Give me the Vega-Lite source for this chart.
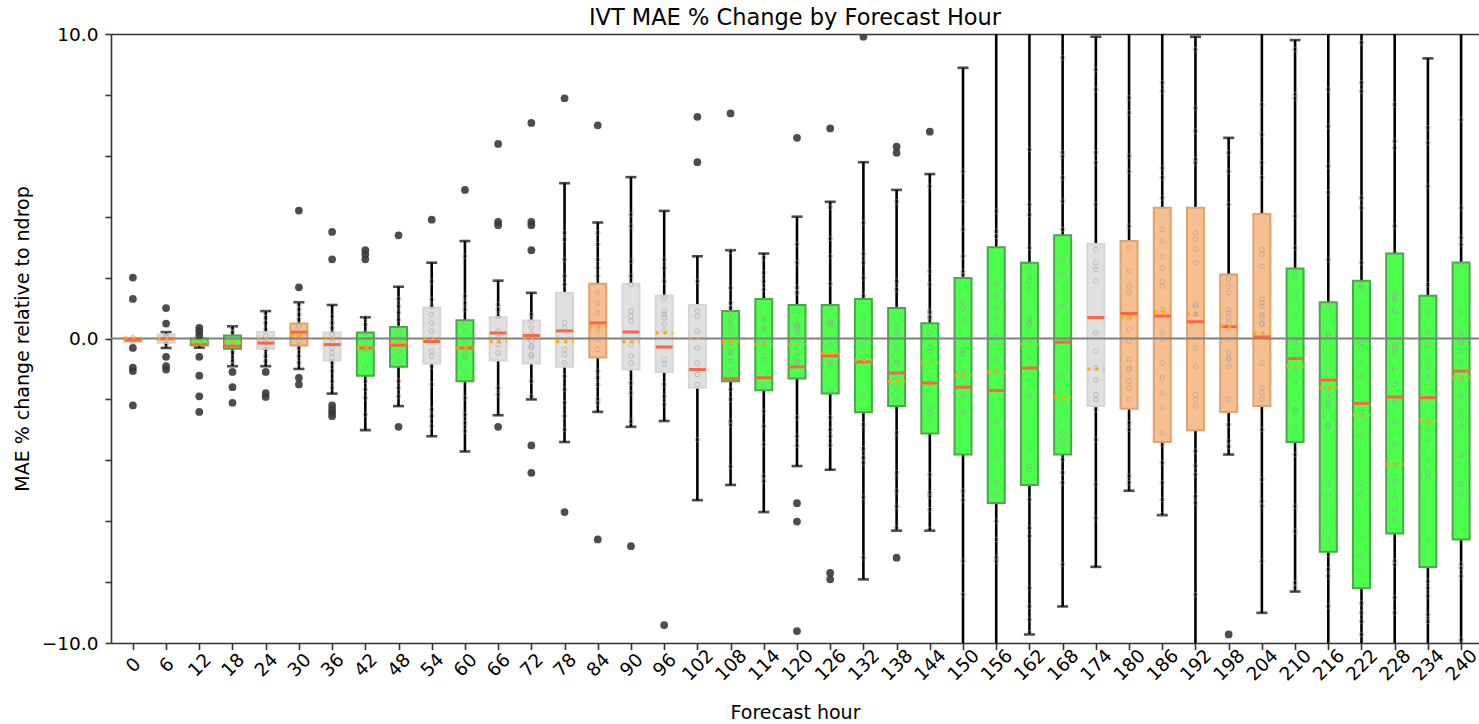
{
  "$schema": "https://vega.github.io/schema/vega-lite/v6.json",
  "width": 1368,
  "height": 609,
  "autosize": {"type": "none"},
  "padding": {"left": 111, "top": 34, "right": 0, "bottom": 81},
  "title": {"text": "IVT MAE % Change by Forecast Hour", "fontSize": 22.5, "font": "DejaVu Sans", "fontWeight": "normal", "color": "black", "offset": -4, "anchor": "middle"},
  "config": {
    "view": {"stroke": null},
    "font": "DejaVu Sans",
    "axis": {"labelFont": "DejaVu Sans", "titleFont": "DejaVu Sans", "labelColor": "black", "titleColor": "black", "titleFontWeight": "normal", "grid": false, "domainColor": "#333333", "tickColor": "#333333", "domainWidth": 1.6, "tickWidth": 1.6}
  },
  "datasets": {
    "boxes": [
      {"hour": 0, "g": "gray", "lo": null, "q1": -0.12, "med": -0.05, "q3": 0.02, "hi": null, "mean": 0.02},
      {"hour": 6, "g": "gray", "lo": -0.31, "q1": -0.14, "med": -0.01, "q3": 0.13, "hi": 0.21, "mean": 0.0},
      {"hour": 12, "g": "green", "lo": -0.3, "q1": -0.22, "med": -0.2, "q3": 0.0, "hi": 0.0, "mean": -0.12},
      {"hour": 18, "g": "green", "lo": -0.91, "q1": -0.34, "med": -0.25, "q3": 0.1, "hi": 0.4, "mean": -0.12},
      {"hour": 24, "g": "gray", "lo": -0.91, "q1": -0.34, "med": -0.15, "q3": 0.21, "hi": 0.9, "mean": 0.0},
      {"hour": 30, "g": "orange", "lo": -1.0, "q1": -0.23, "med": 0.21, "q3": 0.49, "hi": 1.19, "mean": 0.1},
      {"hour": 36, "g": "gray", "lo": -1.81, "q1": -0.72, "med": -0.2, "q3": 0.2, "hi": 1.1, "mean": 0.0},
      {"hour": 42, "g": "green", "lo": -3.01, "q1": -1.22, "med": -0.31, "q3": 0.2, "hi": 0.7, "mean": -0.3},
      {"hour": 48, "g": "green", "lo": -2.22, "q1": -0.93, "med": -0.22, "q3": 0.38, "hi": 1.7, "mean": -0.12},
      {"hour": 54, "g": "gray", "lo": -3.21, "q1": -0.82, "med": -0.1, "q3": 1.01, "hi": 2.49, "mean": 0.0},
      {"hour": 60, "g": "green", "lo": -3.71, "q1": -1.4, "med": -0.31, "q3": 0.6, "hi": 3.2, "mean": -0.3},
      {"hour": 66, "g": "gray", "lo": -2.52, "q1": -0.72, "med": 0.18, "q3": 0.7, "hi": 1.9, "mean": -0.11},
      {"hour": 72, "g": "gray", "lo": -2.0, "q1": -0.82, "med": 0.1, "q3": 0.59, "hi": 1.5, "mean": 0.0},
      {"hour": 78, "g": "gray", "lo": -3.4, "q1": -0.93, "med": 0.25, "q3": 1.5, "hi": 5.1, "mean": -0.11},
      {"hour": 84, "g": "orange", "lo": -2.41, "q1": -0.62, "med": 0.51, "q3": 1.8, "hi": 3.81, "mean": 0.38},
      {"hour": 90, "g": "gray", "lo": -2.9, "q1": -1.02, "med": 0.21, "q3": 1.8, "hi": 5.3, "mean": -0.11},
      {"hour": 96, "g": "gray", "lo": -2.71, "q1": -1.1, "med": -0.28, "q3": 1.41, "hi": 4.19, "mean": 0.18},
      {"hour": 102, "g": "gray", "lo": -5.31, "q1": -1.62, "med": -1.02, "q3": 1.1, "hi": 2.7, "mean": 0.0},
      {"hour": 108, "g": "green", "lo": -4.81, "q1": -1.4, "med": -1.32, "q3": 0.9, "hi": 2.9, "mean": -0.11},
      {"hour": 114, "g": "green", "lo": -5.7, "q1": -1.7, "med": -1.29, "q3": 1.3, "hi": 2.79, "mean": -0.2},
      {"hour": 120, "g": "green", "lo": -4.19, "q1": -1.31, "med": -0.93, "q3": 1.1, "hi": 4.0, "mean": -0.2},
      {"hour": 126, "g": "green", "lo": -4.31, "q1": -1.81, "med": -0.57, "q3": 1.1, "hi": 4.49, "mean": -0.49},
      {"hour": 132, "g": "green", "lo": -7.91, "q1": -2.42, "med": -0.77, "q3": 1.3, "hi": 5.79, "mean": -0.71},
      {"hour": 138, "g": "green", "lo": -6.31, "q1": -2.22, "med": -1.13, "q3": 1.0, "hi": 4.88, "mean": -1.4},
      {"hour": 144, "g": "green", "lo": -6.31, "q1": -3.12, "med": -1.46, "q3": 0.5, "hi": 5.4, "mean": -0.8},
      {"hour": 150, "g": "green", "lo": -11, "q1": -3.81, "med": -1.6, "q3": 1.99, "hi": 8.89, "mean": -1.22},
      {"hour": 156, "g": "green", "lo": -11, "q1": -5.4, "med": -1.71, "q3": 3.0, "hi": 11, "mean": -1.1},
      {"hour": 162, "g": "green", "lo": -9.72, "q1": -4.81, "med": -0.97, "q3": 2.49, "hi": 11, "mean": -0.2},
      {"hour": 168, "g": "green", "lo": -8.8, "q1": -3.81, "med": -0.12, "q3": 3.39, "hi": 11, "mean": -1.92},
      {"hour": 174, "g": "gray", "lo": -7.5, "q1": -2.22, "med": 0.69, "q3": 3.1, "hi": 9.91, "mean": -1.0},
      {"hour": 180, "g": "orange", "lo": -5.0, "q1": -2.31, "med": 0.82, "q3": 3.2, "hi": 11, "mean": 0.7},
      {"hour": 186, "g": "orange", "lo": -5.8, "q1": -3.4, "med": 0.74, "q3": 4.29, "hi": 11, "mean": 0.89},
      {"hour": 192, "g": "orange", "lo": -11, "q1": -3.01, "med": 0.55, "q3": 4.29, "hi": 9.91, "mean": 0.8},
      {"hour": 198, "g": "orange", "lo": -3.81, "q1": -2.41, "med": 0.39, "q3": 2.1, "hi": 6.59, "mean": 0.4},
      {"hour": 204, "g": "orange", "lo": -9.01, "q1": -2.22, "med": 0.05, "q3": 4.09, "hi": 11, "mean": 0.18},
      {"hour": 210, "g": "green", "lo": -8.31, "q1": -3.4, "med": -0.66, "q3": 2.3, "hi": 9.8, "mean": -0.91},
      {"hour": 216, "g": "green", "lo": -11, "q1": -7.0, "med": -1.36, "q3": 1.19, "hi": 11, "mean": -1.61},
      {"hour": 222, "g": "green", "lo": -11, "q1": -8.2, "med": -2.13, "q3": 1.9, "hi": 11, "mean": -2.51},
      {"hour": 228, "g": "green", "lo": -11, "q1": -6.4, "med": -1.92, "q3": 2.79, "hi": 11, "mean": -4.12},
      {"hour": 234, "g": "green", "lo": -11, "q1": -7.5, "med": -1.94, "q3": 1.4, "hi": 9.2, "mean": -2.71},
      {"hour": 240, "g": "green", "lo": -11, "q1": -6.6, "med": -1.07, "q3": 2.5, "hi": 11, "mean": -1.3}
    ],
    "outliers": [
      {"hour": 0, "v": 2.0}, {"hour": 0, "v": 1.3}, {"hour": 0, "v": -0.31}, {"hour": 0, "v": -0.96}, {"hour": 0, "v": -1.07}, {"hour": 0, "v": -2.2},
      {"hour": 6, "v": 1.0}, {"hour": 6, "v": 0.49}, {"hour": 6, "v": -0.6}, {"hour": 6, "v": -0.91}, {"hour": 6, "v": -1.02},
      {"hour": 12, "v": 0.35}, {"hour": 12, "v": 0.24}, {"hour": 12, "v": 0.1}, {"hour": 12, "v": -0.6}, {"hour": 12, "v": -1.22}, {"hour": 12, "v": -1.9}, {"hour": 12, "v": -2.41},
      {"hour": 18, "v": -1.1}, {"hour": 18, "v": -1.6}, {"hour": 18, "v": -2.11},
      {"hour": 24, "v": -1.1}, {"hour": 24, "v": -1.79}, {"hour": 24, "v": -1.92},
      {"hour": 30, "v": 4.2}, {"hour": 30, "v": 1.68}, {"hour": 30, "v": -1.29}, {"hour": 30, "v": -1.51},
      {"hour": 36, "v": 3.5}, {"hour": 36, "v": 2.6}, {"hour": 36, "v": -2.2}, {"hour": 36, "v": -2.33}, {"hour": 36, "v": -2.44}, {"hour": 36, "v": -2.55},
      {"hour": 42, "v": 2.9}, {"hour": 42, "v": 2.76}, {"hour": 42, "v": 2.6},
      {"hour": 48, "v": 3.39}, {"hour": 48, "v": -2.9},
      {"hour": 54, "v": 3.9},
      {"hour": 60, "v": 4.88},
      {"hour": 66, "v": 6.39}, {"hour": 66, "v": 3.83}, {"hour": 66, "v": 3.72}, {"hour": 66, "v": -2.9},
      {"hour": 72, "v": 7.08}, {"hour": 72, "v": 3.83}, {"hour": 72, "v": 3.72}, {"hour": 72, "v": 2.9}, {"hour": 72, "v": -3.51}, {"hour": 72, "v": -4.41},
      {"hour": 78, "v": 7.89}, {"hour": 78, "v": -5.7},
      {"hour": 84, "v": 7.0}, {"hour": 84, "v": -6.6},
      {"hour": 90, "v": -6.82},
      {"hour": 96, "v": -9.41},
      {"hour": 102, "v": 7.28}, {"hour": 102, "v": 5.79},
      {"hour": 108, "v": 7.39},
      {"hour": 120, "v": 6.59}, {"hour": 120, "v": -5.41}, {"hour": 120, "v": -6.01}, {"hour": 120, "v": -9.61},
      {"hour": 126, "v": 6.9}, {"hour": 126, "v": -7.7}, {"hour": 126, "v": -7.91},
      {"hour": 132, "v": 9.91},
      {"hour": 138, "v": 6.3}, {"hour": 138, "v": 6.1}, {"hour": 138, "v": -7.2},
      {"hour": 144, "v": 6.79},
      {"hour": 198, "v": -9.72}
    ],
    "pts": [
      {"hour": 0, "v": 0.03}, {"hour": 0, "v": -0.04}, {"hour": 0, "v": -0.1},
      {"hour": 6, "v": 0.15}, {"hour": 6, "v": 0.05}, {"hour": 6, "v": -0.05}, {"hour": 6, "v": -0.2},
      {"hour": 12, "v": 0.1}, {"hour": 12, "v": 0.02}, {"hour": 12, "v": -0.1},
      {"hour": 18, "v": 0.35}, {"hour": 18, "v": 0.19}, {"hour": 18, "v": -0.14}, {"hour": 18, "v": -0.47}, {"hour": 18, "v": -0.74}, {"hour": 18, "v": -0.85},
      {"hour": 24, "v": 0.84}, {"hour": 24, "v": 0.68}, {"hour": 24, "v": 0.51}, {"hour": 24, "v": 0.3}, {"hour": 24, "v": 0.08}, {"hour": 24, "v": -0.14}, {"hour": 24, "v": -0.36}, {"hour": 24, "v": -0.58}, {"hour": 24, "v": -0.74},
      {"hour": 30, "v": 1.12}, {"hour": 30, "v": 0.95}, {"hour": 30, "v": 0.79}, {"hour": 30, "v": 0.62}, {"hour": 30, "v": 0.4}, {"hour": 30, "v": 0.13}, {"hour": 30, "v": -0.09}, {"hour": 30, "v": -0.31}, {"hour": 30, "v": -0.58}, {"hour": 30, "v": -0.8},
      {"hour": 36, "v": 0.73}, {"hour": 36, "v": 0.51}, {"hour": 36, "v": 0.35}, {"hour": 36, "v": 0.13}, {"hour": 36, "v": -0.14}, {"hour": 36, "v": -0.31}, {"hour": 36, "v": -0.47}, {"hour": 36, "v": -0.63}, {"hour": 36, "v": -0.8}, {"hour": 36, "v": -1.07}, {"hour": 36, "v": -1.4}, {"hour": 36, "v": -1.62},
      {"hour": 42, "v": 0.68}, {"hour": 42, "v": 0.46}, {"hour": 42, "v": 0.19}, {"hour": 42, "v": -0.14}, {"hour": 42, "v": -0.36}, {"hour": 42, "v": -0.91}, {"hour": 42, "v": -1.4}, {"hour": 42, "v": -1.67}, {"hour": 42, "v": -1.95}, {"hour": 42, "v": -2.5},
      {"hour": 48, "v": 1.3}, {"hour": 48, "v": 1.06}, {"hour": 48, "v": 0.84}, {"hour": 48, "v": 0.62}, {"hour": 48, "v": 0.35}, {"hour": 48, "v": 0.13}, {"hour": 48, "v": -0.14}, {"hour": 48, "v": -0.42}, {"hour": 48, "v": -0.74}, {"hour": 48, "v": -1.4}, {"hour": 48, "v": -1.62}, {"hour": 48, "v": -1.9},
      {"hour": 54, "v": 1.88}, {"hour": 54, "v": 1.28}, {"hour": 54, "v": 1.06}, {"hour": 54, "v": 0.79}, {"hour": 54, "v": 0.51}, {"hour": 54, "v": 0.24}, {"hour": 54, "v": -0.03}, {"hour": 54, "v": -0.42}, {"hour": 54, "v": -0.58}, {"hour": 54, "v": -0.91}, {"hour": 54, "v": -1.51}, {"hour": 54, "v": -2.33}, {"hour": 54, "v": -2.55}, {"hour": 54, "v": -2.88},
      {"hour": 60, "v": 2.7}, {"hour": 60, "v": 1.39}, {"hour": 60, "v": 1.17}, {"hour": 60, "v": 0.95}, {"hour": 60, "v": 0.51}, {"hour": 60, "v": 0.24}, {"hour": 60, "v": -0.03}, {"hour": 60, "v": -0.36}, {"hour": 60, "v": -0.58}, {"hour": 60, "v": -0.63}, {"hour": 60, "v": -1.07}, {"hour": 60, "v": -1.95}, {"hour": 60, "v": -2.5}, {"hour": 60, "v": -2.77}, {"hour": 60, "v": -3.04},
      {"hour": 66, "v": 1.12}, {"hour": 66, "v": 0.95}, {"hour": 66, "v": 0.73}, {"hour": 66, "v": 0.24}, {"hour": 66, "v": 0.02}, {"hour": 66, "v": -0.2}, {"hour": 66, "v": -0.47}, {"hour": 66, "v": -1.62}, {"hour": 66, "v": -1.84},
      {"hour": 72, "v": 0.79}, {"hour": 72, "v": 0.57}, {"hour": 72, "v": 0.35}, {"hour": 72, "v": 0.13}, {"hour": 72, "v": -0.09}, {"hour": 72, "v": -0.31}, {"hour": 72, "v": -0.58}, {"hour": 72, "v": -0.25}, {"hour": 72, "v": -0.53}, {"hour": 72, "v": -1.4}, {"hour": 72, "v": -1.9},
      {"hour": 78, "v": 3.47}, {"hour": 78, "v": 3.25}, {"hour": 78, "v": 2.59}, {"hour": 78, "v": 2.05}, {"hour": 78, "v": 1.77}, {"hour": 78, "v": 0.51}, {"hour": 78, "v": 0.35}, {"hour": 78, "v": -0.36}, {"hour": 78, "v": -0.53}, {"hour": 78, "v": -0.8}, {"hour": 78, "v": -1.24}, {"hour": 78, "v": -1.67}, {"hour": 78, "v": -2.11}, {"hour": 78, "v": -2.55}, {"hour": 78, "v": -2.99},
      {"hour": 84, "v": 3.47}, {"hour": 84, "v": 3.09}, {"hour": 84, "v": 2.59}, {"hour": 84, "v": 2.32}, {"hour": 84, "v": 2.05}, {"hour": 84, "v": 1.5}, {"hour": 84, "v": 1.17}, {"hour": 84, "v": 0.84}, {"hour": 84, "v": 0.3}, {"hour": 84, "v": -0.03}, {"hour": 84, "v": -0.36}, {"hour": 84, "v": -1.07}, {"hour": 84, "v": -1.29}, {"hour": 84, "v": -1.51}, {"hour": 84, "v": -2.0}, {"hour": 84, "v": -2.11},
      {"hour": 90, "v": 4.07}, {"hour": 90, "v": 3.69}, {"hour": 90, "v": 2.54}, {"hour": 90, "v": 2.05}, {"hour": 90, "v": 1.77}, {"hour": 90, "v": 0.9}, {"hour": 90, "v": 0.73}, {"hour": 90, "v": 0.57}, {"hour": 90, "v": -0.2}, {"hour": 90, "v": -0.58}, {"hour": 90, "v": -0.8}, {"hour": 90, "v": -1.46}, {"hour": 90, "v": -1.79}, {"hour": 90, "v": -2.72},
      {"hour": 96, "v": 2.59}, {"hour": 96, "v": 2.32}, {"hour": 96, "v": 1.88}, {"hour": 96, "v": 1.34}, {"hour": 96, "v": 0.9}, {"hour": 96, "v": 0.68}, {"hour": 96, "v": 0.46}, {"hour": 96, "v": 0.24}, {"hour": 96, "v": 0.79}, {"hour": 96, "v": -0.69}, {"hour": 96, "v": -0.85}, {"hour": 96, "v": -1.51}, {"hour": 96, "v": -1.9}, {"hour": 96, "v": -2.17},
      {"hour": 102, "v": 1.88}, {"hour": 102, "v": 0.9}, {"hour": 102, "v": 0.73}, {"hour": 102, "v": 0.24}, {"hour": 102, "v": -0.31}, {"hour": 102, "v": -0.8}, {"hour": 102, "v": -1.18}, {"hour": 102, "v": -1.51}, {"hour": 102, "v": -3.32},
      {"hour": 108, "v": 2.87}, {"hour": 108, "v": 1.66}, {"hour": 108, "v": 1.17}, {"hour": 108, "v": 1.0}, {"hour": 108, "v": 0.84}, {"hour": 108, "v": 0.19}, {"hour": 108, "v": -0.14}, {"hour": 108, "v": -0.47}, {"hour": 108, "v": 0.62}, {"hour": 108, "v": 0.46}, {"hour": 108, "v": -0.42}, {"hour": 108, "v": -0.74}, {"hour": 108, "v": -1.07}, {"hour": 108, "v": -1.67}, {"hour": 108, "v": -2.0}, {"hour": 108, "v": -2.72}, {"hour": 108, "v": -2.83}, {"hour": 108, "v": -4.2},
      {"hour": 114, "v": 2.65}, {"hour": 114, "v": 2.16}, {"hour": 114, "v": 1.88}, {"hour": 114, "v": 1.61}, {"hour": 114, "v": 0.62}, {"hour": 114, "v": 0.3}, {"hour": 114, "v": -0.2}, {"hour": 114, "v": -0.58}, {"hour": 114, "v": 0.68}, {"hour": 114, "v": 0.4}, {"hour": 114, "v": -0.69}, {"hour": 114, "v": -1.57}, {"hour": 114, "v": -2.39}, {"hour": 114, "v": -2.88}, {"hour": 114, "v": -3.48}, {"hour": 114, "v": -4.52}, {"hour": 114, "v": -4.69},
      {"hour": 120, "v": 3.09}, {"hour": 120, "v": 2.49}, {"hour": 120, "v": 1.68}, {"hour": 120, "v": 1.5}, {"hour": 120, "v": 0.9}, {"hour": 120, "v": 0.4}, {"hour": 120, "v": 0.19}, {"hour": 120, "v": -0.47}, {"hour": 120, "v": -0.74}, {"hour": 120, "v": 0.46}, {"hour": 120, "v": 0.35}, {"hour": 120, "v": -0.03}, {"hour": 120, "v": -0.8}, {"hour": 120, "v": -2.6}, {"hour": 120, "v": -3.21}, {"hour": 120, "v": -3.51},
      {"hour": 126, "v": 4.31}, {"hour": 126, "v": 3.28}, {"hour": 126, "v": 2.7}, {"hour": 126, "v": 1.8}, {"hour": 126, "v": 1.0}, {"hour": 126, "v": 0.57}, {"hour": 126, "v": 0.46}, {"hour": 126, "v": -0.2}, {"hour": 126, "v": 0.51}, {"hour": 126, "v": -0.8}, {"hour": 126, "v": -0.91}, {"hour": 126, "v": -1.73}, {"hour": 126, "v": -2.6}, {"hour": 126, "v": -2.99}, {"hour": 126, "v": -3.21}, {"hour": 126, "v": -3.51},
      {"hour": 132, "v": 3.8}, {"hour": 132, "v": 2.78}, {"hour": 132, "v": 2.49}, {"hour": 132, "v": 1.99}, {"hour": 132, "v": 1.39}, {"hour": 132, "v": 0.7}, {"hour": 132, "v": 0.46}, {"hour": 132, "v": 0.19}, {"hour": 132, "v": -0.09}, {"hour": 132, "v": -0.31}, {"hour": 132, "v": -0.74}, {"hour": 132, "v": -1.9}, {"hour": 132, "v": -2.83}, {"hour": 132, "v": -3.62}, {"hour": 132, "v": -3.92}, {"hour": 132, "v": -4.08}, {"hour": 132, "v": -5.21}, {"hour": 132, "v": -7.2},
      {"hour": 138, "v": 4.49}, {"hour": 138, "v": 1.88}, {"hour": 138, "v": 1.61}, {"hour": 138, "v": 0.4}, {"hour": 138, "v": 0.19}, {"hour": 138, "v": -0.74}, {"hour": 138, "v": -0.31}, {"hour": 138, "v": -0.8}, {"hour": 138, "v": -1.29}, {"hour": 138, "v": -1.67}, {"hour": 138, "v": -2.0}, {"hour": 138, "v": -3.1}, {"hour": 138, "v": -4.41}, {"hour": 138, "v": -5.01}, {"hour": 138, "v": -5.51}, {"hour": 138, "v": -6.22},
      {"hour": 144, "v": 5.0}, {"hour": 144, "v": 2.21}, {"hour": 144, "v": 1.77}, {"hour": 144, "v": 0.84}, {"hour": 144, "v": 0.68}, {"hour": 144, "v": 0.19}, {"hour": 144, "v": -0.31}, {"hour": 144, "v": 0.9}, {"hour": 144, "v": 0.73}, {"hour": 144, "v": -0.42}, {"hour": 144, "v": -1.46}, {"hour": 144, "v": -2.28}, {"hour": 144, "v": -2.44}, {"hour": 144, "v": -2.66}, {"hour": 144, "v": -4.47}, {"hour": 144, "v": -5.07}, {"hour": 144, "v": -5.18}, {"hour": 144, "v": -5.62}, {"hour": 144, "v": -6.27},
      {"hour": 150, "v": 5.49}, {"hour": 150, "v": 4.49}, {"hour": 150, "v": 3.59}, {"hour": 150, "v": 2.7}, {"hour": 150, "v": 2.2}, {"hour": 150, "v": 2.1}, {"hour": 150, "v": 1.19}, {"hour": 150, "v": 0.6}, {"hour": 150, "v": -0.39}, {"hour": 150, "v": -0.5}, {"hour": 150, "v": 0.99}, {"hour": 150, "v": -1.07}, {"hour": 150, "v": -1.24}, {"hour": 150, "v": -1.9}, {"hour": 150, "v": -2.44}, {"hour": 150, "v": -5.01}, {"hour": 150, "v": -5.31}, {"hour": 150, "v": -7.31}, {"hour": 150, "v": -8.41},
      {"hour": 156, "v": 4.18}, {"hour": 156, "v": 3.52}, {"hour": 156, "v": 3.36}, {"hour": 156, "v": 1.77}, {"hour": 156, "v": 1.39}, {"hour": 156, "v": 1.0}, {"hour": 156, "v": 0.68}, {"hour": 156, "v": 0.02}, {"hour": 156, "v": -0.69}, {"hour": 156, "v": 0.08}, {"hour": 156, "v": -1.07}, {"hour": 156, "v": -2.72}, {"hour": 156, "v": -3.92}, {"hour": 156, "v": -4.74}, {"hour": 156, "v": -5.12}, {"hour": 156, "v": -6.0}, {"hour": 156, "v": -6.6}, {"hour": 156, "v": -7.2}, {"hour": 156, "v": -7.31},
      {"hour": 162, "v": 6.21}, {"hour": 162, "v": 4.4}, {"hour": 162, "v": 4.07}, {"hour": 162, "v": 2.98}, {"hour": 162, "v": 2.32}, {"hour": 162, "v": 2.05}, {"hour": 162, "v": 1.88}, {"hour": 162, "v": 1.61}, {"hour": 162, "v": 0.62}, {"hour": 162, "v": 0.51}, {"hour": 162, "v": -0.09}, {"hour": 162, "v": -0.63}, {"hour": 162, "v": -0.91}, {"hour": 162, "v": 0.68}, {"hour": 162, "v": 0.46}, {"hour": 162, "v": -1.9}, {"hour": 162, "v": -3.65}, {"hour": 162, "v": -4.19}, {"hour": 162, "v": -4.3}, {"hour": 162, "v": -5.29}, {"hour": 162, "v": -6.22}, {"hour": 162, "v": -6.49}, {"hour": 162, "v": -8.19}, {"hour": 162, "v": -8.79}, {"hour": 162, "v": -9.23}, {"hour": 162, "v": -9.67},
      {"hour": 168, "v": 9.22}, {"hour": 168, "v": 6.1}, {"hour": 168, "v": 5.99}, {"hour": 168, "v": 5.28}, {"hour": 168, "v": 4.51}, {"hour": 168, "v": 3.58}, {"hour": 168, "v": 2.59}, {"hour": 168, "v": 2.1}, {"hour": 168, "v": 1.06}, {"hour": 168, "v": -1.24}, {"hour": 168, "v": -2.11}, {"hour": 168, "v": -3.1}, {"hour": 168, "v": -3.32}, {"hour": 168, "v": -3.54}, {"hour": 168, "v": -3.97}, {"hour": 168, "v": -4.41}, {"hour": 168, "v": -4.74}, {"hour": 168, "v": -7.42},
      {"hour": 174, "v": 8.83}, {"hour": 174, "v": 8.18}, {"hour": 174, "v": 6.1}, {"hour": 174, "v": 5.77}, {"hour": 174, "v": 4.4}, {"hour": 174, "v": 2.92}, {"hour": 174, "v": 2.49}, {"hour": 174, "v": 2.27}, {"hour": 174, "v": 1.88}, {"hour": 174, "v": 0.19}, {"hour": 174, "v": -0.42}, {"hour": 174, "v": -0.96}, {"hour": 174, "v": -1.35}, {"hour": 174, "v": -1.84}, {"hour": 174, "v": -2.0}, {"hour": 174, "v": -2.33}, {"hour": 174, "v": -3.32}, {"hour": 174, "v": -4.79}, {"hour": 174, "v": -5.89},
      {"hour": 180, "v": 7.9}, {"hour": 180, "v": 7.41}, {"hour": 180, "v": 5.99}, {"hour": 180, "v": 5.49}, {"hour": 180, "v": 3.69}, {"hour": 180, "v": 2.98}, {"hour": 180, "v": 2.21}, {"hour": 180, "v": 1.72}, {"hour": 180, "v": 1.5}, {"hour": 180, "v": 0.68}, {"hour": 180, "v": 0.3}, {"hour": 180, "v": -0.09}, {"hour": 180, "v": -0.69}, {"hour": 180, "v": -0.96}, {"hour": 180, "v": -1.02}, {"hour": 180, "v": -1.4}, {"hour": 180, "v": -1.62}, {"hour": 180, "v": -2.0}, {"hour": 180, "v": -2.77}, {"hour": 180, "v": -2.99}, {"hour": 180, "v": -4.52}, {"hour": 180, "v": -4.74},
      {"hour": 186, "v": 8.4}, {"hour": 186, "v": 8.12}, {"hour": 186, "v": 5.6}, {"hour": 186, "v": 5.28}, {"hour": 186, "v": 4.62}, {"hour": 186, "v": 3.58}, {"hour": 186, "v": 3.2}, {"hour": 186, "v": 2.7}, {"hour": 186, "v": 2.32}, {"hour": 186, "v": 1.88}, {"hour": 186, "v": 1.72}, {"hour": 186, "v": 0.95}, {"hour": 186, "v": 0.19}, {"hour": 186, "v": -0.03}, {"hour": 186, "v": -0.8}, {"hour": 186, "v": -1.29}, {"hour": 186, "v": -1.79}, {"hour": 186, "v": -2.28}, {"hour": 186, "v": -3.1}, {"hour": 186, "v": -3.48}, {"hour": 186, "v": -4.08}, {"hour": 186, "v": -4.74}, {"hour": 186, "v": -5.29}, {"hour": 186, "v": -5.78},
      {"hour": 192, "v": 9.49}, {"hour": 192, "v": 7.57}, {"hour": 192, "v": 6.81}, {"hour": 192, "v": 5.88}, {"hour": 192, "v": 5.77}, {"hour": 192, "v": 3.47}, {"hour": 192, "v": 3.25}, {"hour": 192, "v": 2.92}, {"hour": 192, "v": 2.49}, {"hour": 192, "v": 1.06}, {"hour": 192, "v": 0.79}, {"hour": 192, "v": -0.31}, {"hour": 192, "v": -0.91}, {"hour": 192, "v": 1.12}, {"hour": 192, "v": -1.84}, {"hour": 192, "v": -2.0}, {"hour": 192, "v": -2.22}, {"hour": 192, "v": -3.7}, {"hour": 192, "v": -4.19}, {"hour": 192, "v": -4.47}, {"hour": 192, "v": -5.18}, {"hour": 192, "v": -5.4}, {"hour": 192, "v": -8.41},
      {"hour": 198, "v": 6.1}, {"hour": 198, "v": 5.49}, {"hour": 198, "v": 4.4}, {"hour": 198, "v": 1.94}, {"hour": 198, "v": 1.72}, {"hour": 198, "v": 1.5}, {"hour": 198, "v": 0.95}, {"hour": 198, "v": 0.68}, {"hour": 198, "v": 0.51}, {"hour": 198, "v": 0.35}, {"hour": 198, "v": -0.03}, {"hour": 198, "v": -0.47}, {"hour": 198, "v": -0.69}, {"hour": 198, "v": 0.84}, {"hour": 198, "v": -0.63}, {"hour": 198, "v": -0.91}, {"hour": 198, "v": -2.0}, {"hour": 198, "v": -2.83}, {"hour": 198, "v": -3.37}, {"hour": 198, "v": -3.54},
      {"hour": 204, "v": 7.68}, {"hour": 204, "v": 6.7}, {"hour": 204, "v": 5.77}, {"hour": 204, "v": 5.28}, {"hour": 204, "v": 2.92}, {"hour": 204, "v": 2.76}, {"hour": 204, "v": 2.37}, {"hour": 204, "v": 1.28}, {"hour": 204, "v": 1.06}, {"hour": 204, "v": 0.79}, {"hour": 204, "v": 0.46}, {"hour": 204, "v": -0.8}, {"hour": 204, "v": 1.17}, {"hour": 204, "v": 0.73}, {"hour": 204, "v": 0.51}, {"hour": 204, "v": -1.62}, {"hour": 204, "v": -1.79}, {"hour": 204, "v": -2.0}, {"hour": 204, "v": -2.99}, {"hour": 204, "v": -4.63}, {"hour": 204, "v": -5.34}, {"hour": 204, "v": -5.51}, {"hour": 204, "v": -7.31},
      {"hour": 210, "v": 9.49}, {"hour": 210, "v": 8.01}, {"hour": 210, "v": 7.9}, {"hour": 210, "v": 4.02}, {"hour": 210, "v": 2.98}, {"hour": 210, "v": 2.16}, {"hour": 210, "v": 1.99}, {"hour": 210, "v": 1.39}, {"hour": 210, "v": 0.68}, {"hour": 210, "v": -0.14}, {"hour": 210, "v": -0.42}, {"hour": 210, "v": -1.07}, {"hour": 210, "v": -1.4}, {"hour": 210, "v": -2.33}, {"hour": 210, "v": -2.39}, {"hour": 210, "v": -2.88}, {"hour": 210, "v": -3.32}, {"hour": 210, "v": -3.81}, {"hour": 210, "v": -5.51}, {"hour": 210, "v": -6.33}, {"hour": 210, "v": -8.02}, {"hour": 210, "v": -8.19},
      {"hour": 216, "v": 8.18}, {"hour": 216, "v": 6.97}, {"hour": 216, "v": 5.66}, {"hour": 216, "v": 4.79}, {"hour": 216, "v": 2.59}, {"hour": 216, "v": 1.06}, {"hour": 216, "v": 0.13}, {"hour": 216, "v": 0.08}, {"hour": 216, "v": -1.02}, {"hour": 216, "v": -1.62}, {"hour": 216, "v": -1.9}, {"hour": 216, "v": -2.11}, {"hour": 216, "v": -2.22}, {"hour": 216, "v": -2.83}, {"hour": 216, "v": -2.88}, {"hour": 216, "v": -4.79}, {"hour": 216, "v": -5.12}, {"hour": 216, "v": -6.6}, {"hour": 216, "v": -7.09}, {"hour": 216, "v": -7.59}, {"hour": 216, "v": -7.81}, {"hour": 216, "v": -8.79},
      {"hour": 222, "v": 9.71}, {"hour": 222, "v": 8.4}, {"hour": 222, "v": 8.12}, {"hour": 222, "v": 4.62}, {"hour": 222, "v": 4.29}, {"hour": 222, "v": 2.49}, {"hour": 222, "v": 1.77}, {"hour": 222, "v": 1.66}, {"hour": 222, "v": -0.14}, {"hour": 222, "v": -0.31}, {"hour": 222, "v": -0.8}, {"hour": 222, "v": -1.24}, {"hour": 222, "v": -2.5}, {"hour": 222, "v": -3.21}, {"hour": 222, "v": -4.74}, {"hour": 222, "v": -5.12}, {"hour": 222, "v": -6.6}, {"hour": 222, "v": -7.15}, {"hour": 222, "v": -7.59}, {"hour": 222, "v": -8.69}, {"hour": 222, "v": -9.01}, {"hour": 222, "v": -9.29}, {"hour": 222, "v": -9.72},
      {"hour": 228, "v": 7.68}, {"hour": 228, "v": 6.48}, {"hour": 228, "v": 6.26}, {"hour": 228, "v": 3.69}, {"hour": 228, "v": 2.81}, {"hour": 228, "v": 1.5}, {"hour": 228, "v": 1.34}, {"hour": 228, "v": 0.9}, {"hour": 228, "v": -0.31}, {"hour": 228, "v": -0.47}, {"hour": 228, "v": 1.28}, {"hour": 228, "v": -0.25}, {"hour": 228, "v": -1.02}, {"hour": 228, "v": -1.51}, {"hour": 228, "v": -2.11}, {"hour": 228, "v": -2.72}, {"hour": 228, "v": -3.48}, {"hour": 228, "v": -4.14}, {"hour": 228, "v": -4.69}, {"hour": 228, "v": -5.23}, {"hour": 228, "v": -5.62}, {"hour": 228, "v": -5.95}, {"hour": 228, "v": -7.31}, {"hour": 228, "v": -7.42}, {"hour": 228, "v": -8.51}, {"hour": 228, "v": -9.01},
      {"hour": 234, "v": 6.92}, {"hour": 234, "v": 6.43}, {"hour": 234, "v": 5.0}, {"hour": 234, "v": 1.77}, {"hour": 234, "v": 0.9}, {"hour": 234, "v": 0.19}, {"hour": 234, "v": -0.2}, {"hour": 234, "v": -0.69}, {"hour": 234, "v": -0.91}, {"hour": 234, "v": -1.24}, {"hour": 234, "v": -2.72}, {"hour": 234, "v": -2.99}, {"hour": 234, "v": -3.32}, {"hour": 234, "v": -3.97}, {"hour": 234, "v": -4.41}, {"hour": 234, "v": -4.58}, {"hour": 234, "v": -6.6}, {"hour": 234, "v": -7.97}, {"hour": 234, "v": -8.19}, {"hour": 234, "v": -8.46}, {"hour": 234, "v": -9.06}, {"hour": 234, "v": -9.29},
      {"hour": 240, "v": 7.19}, {"hour": 240, "v": 4.29}, {"hour": 240, "v": 3.31}, {"hour": 240, "v": 3.09}, {"hour": 240, "v": 2.43}, {"hour": 240, "v": 0.9}, {"hour": 240, "v": 0.08}, {"hour": 240, "v": -0.14}, {"hour": 240, "v": -0.42}, {"hour": 240, "v": -0.8}, {"hour": 240, "v": 0.19}, {"hour": 240, "v": -0.09}, {"hour": 240, "v": -1.4}, {"hour": 240, "v": -1.9}, {"hour": 240, "v": -2.39}, {"hour": 240, "v": -2.6}, {"hour": 240, "v": -2.88}, {"hour": 240, "v": -3.81}, {"hour": 240, "v": -4.79}, {"hour": 240, "v": -5.12}, {"hour": 240, "v": -7.42}, {"hour": 240, "v": -7.53}, {"hour": 240, "v": -7.81}, {"hour": 240, "v": -9.89}
    ],
    "zero": [{"v": 0}]
  },
  "resolve": {"axis": {"x": "independent"}},
  "layer": [
    {
      "data": {"name": "boxes"},
      "mark": {"type": "rule", "color": "black", "strokeWidth": 2.6, "clip": true},
      "encoding": {
        "x": {"field": "hour", "type": "quantitative", "scale": {"domain": [-3.05, 242.33], "nice": false, "zero": false},
          "axis": {"values": [0,6,12,18,24,30,36,42,48,54,60,66,72,78,84,90,96,102,108,114,120,126,132,138,144,150,156,162,168,174,180,186,192,198,204,210,216,222,228,234,240],
            "format": "d", "labelAngle": -45, "labelAlign": "center", "labelBaseline": "middle", "labelFontSize": 18.5, "labelPadding": 15, "labelOverlap": false, "labelBound": false, "labelFlush": false,
            "tickSize": 6.6, "title": "Forecast hour", "titleFontSize": 19, "titlePadding": 20}},
        "y": {"field": "lo", "type": "quantitative", "scale": {"domain": [-10, 10], "nice": false, "zero": false},
          "title": "MAE % change relative to ndrop",
          "axis": {"values": [-10,-9.5,-9,-8.5,-8,-7.5,-7,-6.5,-6,-5.5,-5,-4.5,-4,-3.5,-3,-2.5,-2,-1.5,-1,-0.5,0,0.5,1,1.5,2,2.5,3,3.5,4,4.5,5,5.5,6,6.5,7,7.5,8,8.5,9,9.5,10],
            "labelExpr": "(datum.value * 2) % 5 === 0 ? replace(format(datum.value, '.1f'), '-', '\u2212') : ''",
            "labelFontSize": 18.5, "labelPadding": 7, "labelOverlap": false, "labelBound": false, "labelFlush": false, "tickSize": 6, "titleFontSize": 19, "titlePadding": 9}},
        "y2": {"field": "hi"}
      }
    },
    {
      "data": {"name": "boxes"},
      "mark": {"type": "tick", "orient": "horizontal", "color": "black", "size": 11, "thickness": 2.6, "clip": true},
      "encoding": {
        "x": {"field": "hour", "type": "quantitative", "axis": null},
        "y": {"field": "lo", "type": "quantitative", "title": "MAE % change relative to ndrop"}
      }
    },
    {
      "data": {"name": "boxes"},
      "mark": {"type": "tick", "orient": "horizontal", "color": "black", "size": 11, "thickness": 2.6, "clip": true},
      "encoding": {
        "x": {"field": "hour", "type": "quantitative", "axis": null},
        "y": {"field": "hi", "type": "quantitative", "title": "MAE % change relative to ndrop"}
      }
    },
    {
      "data": {"name": "boxes"},
      "mark": {"type": "bar", "size": 17, "strokeWidth": 2, "clip": true},
      "encoding": {
        "x": {"field": "hour", "type": "quantitative", "axis": null},
        "y": {"field": "q1", "type": "quantitative", "title": "MAE % change relative to ndrop"},
        "y2": {"field": "q3"},
        "color": {"field": "g", "type": "nominal", "legend": null, "scale": {"domain": ["green", "gray", "orange"], "range": ["#4dff4d", "#e0e0e0", "#f7bf90"]}},
        "stroke": {"field": "g", "type": "nominal", "legend": null, "scale": {"domain": ["green", "gray", "orange"], "range": ["#4da64d", "#d6d6d6", "#dca471"]}}
      }
    },
    {
      "data": {"name": "zero"},
      "mark": {"type": "rule", "color": "#808080", "strokeWidth": 1.8},
      "encoding": {
        "y": {"field": "v", "type": "quantitative", "title": "MAE % change relative to ndrop"}
      }
    },
    {
      "data": {"name": "pts"},
      "mark": {"type": "point", "shape": "circle", "filled": false, "size": 22, "stroke": "#9a9a9a", "strokeWidth": 0.9, "opacity": 0.6, "clip": true},
      "encoding": {
        "x": {"field": "hour", "type": "quantitative", "axis": null},
        "y": {"field": "v", "type": "quantitative", "title": "MAE % change relative to ndrop"}
      }
    },
    {
      "data": {"name": "boxes"},
      "mark": {"type": "tick", "orient": "horizontal", "color": "#ff6347", "size": 17, "thickness": 3, "opacity": 1},
      "encoding": {
        "x": {"field": "hour", "type": "quantitative", "axis": null},
        "y": {"field": "med", "type": "quantitative", "title": "MAE % change relative to ndrop"}
      }
    },
    {
      "data": {"name": "boxes"},
      "mark": {"type": "point", "shape": "M-1,0H1", "size": 289, "filled": false, "stroke": "#ffa500", "strokeWidth": 3, "strokeDash": [3, 5], "opacity": 1},
      "encoding": {
        "x": {"field": "hour", "type": "quantitative", "axis": null},
        "y": {"field": "mean", "type": "quantitative", "title": "MAE % change relative to ndrop"}
      }
    },
    {
      "data": {"name": "outliers"},
      "mark": {"type": "point", "shape": "circle", "filled": true, "size": 60, "color": "#3a3a3a", "opacity": 0.9, "clip": true},
      "encoding": {
        "x": {"field": "hour", "type": "quantitative", "axis": {"orient": "top", "labels": false, "ticks": false, "title": null, "domain": true}},
        "y": {"field": "v", "type": "quantitative", "title": "MAE % change relative to ndrop"}
      }
    }
  ]
}
